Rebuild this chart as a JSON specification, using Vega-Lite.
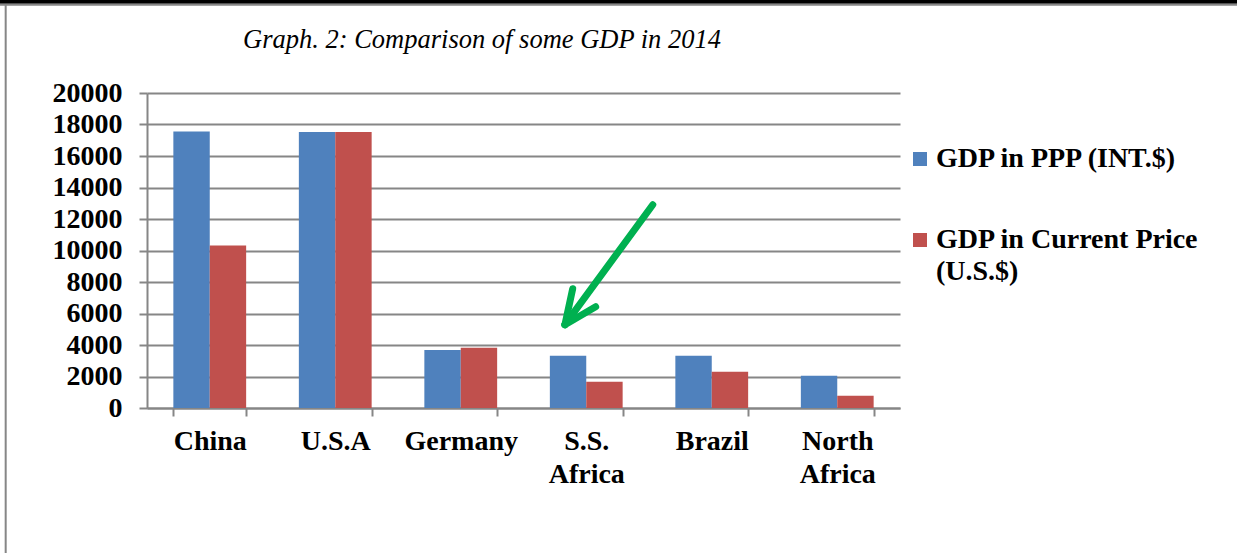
{
  "$schema": "https://vega.github.io/schema/vega-lite/v6.json",
  "autosize": "none",
  "width": 753,
  "height": 315,
  "padding": {"left": 147, "top": 93, "right": 337, "bottom": 145},
  "background": "white",
  "config": {
    "view": {"stroke": null},
    "font": "Liberation Serif"
  },
  "title": {
    "text": "Graph. 2: Comparison of some GDP in 2014",
    "font": "Liberation Serif",
    "fontStyle": "italic",
    "fontWeight": "normal",
    "fontSize": 26.5,
    "color": "black",
    "anchor": "start",
    "frame": "group",
    "dx": 96,
    "dy": 75,
    "baseline": "alphabetic",
    "offset": 0
  },
  "datasets": {
    "gdp": [
      {"region": "China", "series": "GDP in PPP (INT.$)", "value": 17550},
      {"region": "China", "series": "GDP in Current Price (U.S.$)", "value": 10320},
      {"region": "U.S.A", "series": "GDP in PPP (INT.$)", "value": 17520},
      {"region": "U.S.A", "series": "GDP in Current Price (U.S.$)", "value": 17520},
      {"region": "Germany", "series": "GDP in PPP (INT.$)", "value": 3690},
      {"region": "Germany", "series": "GDP in Current Price (U.S.$)", "value": 3830},
      {"region": "S.S. Africa", "series": "GDP in PPP (INT.$)", "value": 3310},
      {"region": "S.S. Africa", "series": "GDP in Current Price (U.S.$)", "value": 1670},
      {"region": "Brazil", "series": "GDP in PPP (INT.$)", "value": 3310},
      {"region": "Brazil", "series": "GDP in Current Price (U.S.$)", "value": 2300},
      {"region": "North Africa", "series": "GDP in PPP (INT.$)", "value": 2040},
      {"region": "North Africa", "series": "GDP in Current Price (U.S.$)", "value": 780}
    ],
    "arrow": [
      {"part": "shaft", "x": 4.03, "value": 12908, "x2": 3.33, "value2": 5290},
      {"part": "wing1", "x": 3.392, "value": 7575, "x2": 3.33, "value2": 5290},
      {"part": "wing2", "x": 3.575, "value": 6432, "x2": 3.33, "value2": 5290}
    ],
    "frameTop": [
      {"x": -1.2, "value": 25797, "x2": 8.7, "value2": 25797}
    ],
    "frameGray": [
      {"x": -1.2, "value": 25606, "x2": 8.7, "value2": 25606},
      {"x": -1.126, "value": 25606, "x2": -1.126, "value2": -9200}
    ]
  },
  "resolve": {"scale": {"x": "independent"}},
  "encoding": {
    "y": {
      "field": "value",
      "type": "quantitative",
      "scale": {"domain": [0, 20000], "nice": false},
      "axis": {
        "title": null,
        "values": [0, 2000, 4000, 6000, 8000, 10000, 12000, 14000, 16000, 18000, 20000],
        "format": "d",
        "labelOverlap": false,
        "labelFont": "Liberation Serif",
        "labelFontWeight": "bold",
        "labelFontSize": 28,
        "labelColor": "black",
        "labelPadding": 17,
        "tickSize": 8,
        "tickColor": "#868686",
        "tickWidth": 2,
        "domainColor": "#868686",
        "domainWidth": 2,
        "grid": true,
        "gridColor": "#868686",
        "gridWidth": 2,
        "zindex": 0
      }
    }
  },
  "layer": [
    {
      "data": {"name": "gdp"},
      "mark": {"type": "bar"},
      "encoding": {
        "x": {
          "field": "region",
          "type": "nominal",
          "sort": null,
          "scale": {"paddingInner": 0.42, "paddingOuter": 0.21},
          "axis": {
            "title": null,
            "labelAngle": 0,
            "labelExpr": "split(datum.label, ' ')",
            "labelFont": "Liberation Serif",
            "labelFontWeight": "bold",
            "labelFontSize": 28,
            "labelColor": "black",
            "labelLineHeight": 33,
            "labelPadding": 11,
            "labelBaseline": "top",
            "tickBand": "extent",
            "tickSize": 8,
            "tickColor": "#868686",
            "tickWidth": 2,
            "domainColor": "#868686",
            "domainWidth": 2,
            "grid": false
          }
        },
        "xOffset": {
          "field": "series",
          "type": "nominal",
          "sort": ["GDP in PPP (INT.$)", "GDP in Current Price (U.S.$)"],
          "scale": {"paddingInner": 0, "paddingOuter": 0}
        },
        "color": {
          "field": "series",
          "type": "nominal",
          "scale": {
            "domain": ["GDP in PPP (INT.$)", "GDP in Current Price (U.S.$)"],
            "range": ["#4F81BD", "#C0504D"]
          },
          "legend": {
            "title": null,
            "orient": "none",
            "legendX": 759,
            "legendY": 52,
            "symbolType": "square",
            "symbolSize": 196,
            "symbolStrokeWidth": 0,
            "labelFont": "Liberation Serif",
            "labelFontWeight": "bold",
            "labelFontSize": 28,
            "labelColor": "black",
            "labelLimit": 500,
            "labelOffset": 2,
            "rowPadding": 53,
            "labelExpr": "datum.label == 'GDP in Current Price (U.S.$)' ? ['GDP in Current Price', '(U.S.$)'] : datum.label",
            "labelBaseline": "middle",
            "encode": {"labels": {"update": {"lineHeight": {"value": 32}}}}
          }
        }
      }
    },
    {
      "data": {"name": "arrow"},
      "mark": {"type": "rule", "color": "#00B050", "strokeWidth": 7, "strokeCap": "round", "clip": false},
      "encoding": {
        "x": {"field": "x", "type": "quantitative", "scale": {"domain": [0, 6], "nice": false, "zero": false}, "axis": null},
        "x2": {"field": "x2"},
        "y2": {"field": "value2"}
      }
    },
    {
      "data": {"name": "frameTop"},
      "mark": {"type": "rule", "color": "black", "strokeWidth": 4, "clip": false},
      "encoding": {
        "x": {"field": "x", "type": "quantitative", "scale": {"domain": [0, 6], "nice": false, "zero": false}, "axis": null},
        "x2": {"field": "x2"},
        "y2": {"field": "value2"}
      }
    },
    {
      "data": {"name": "frameGray"},
      "mark": {"type": "rule", "color": "#868686", "strokeWidth": 2, "clip": false},
      "encoding": {
        "x": {"field": "x", "type": "quantitative", "scale": {"domain": [0, 6], "nice": false, "zero": false}, "axis": null},
        "x2": {"field": "x2"},
        "y2": {"field": "value2"}
      }
    }
  ]
}
